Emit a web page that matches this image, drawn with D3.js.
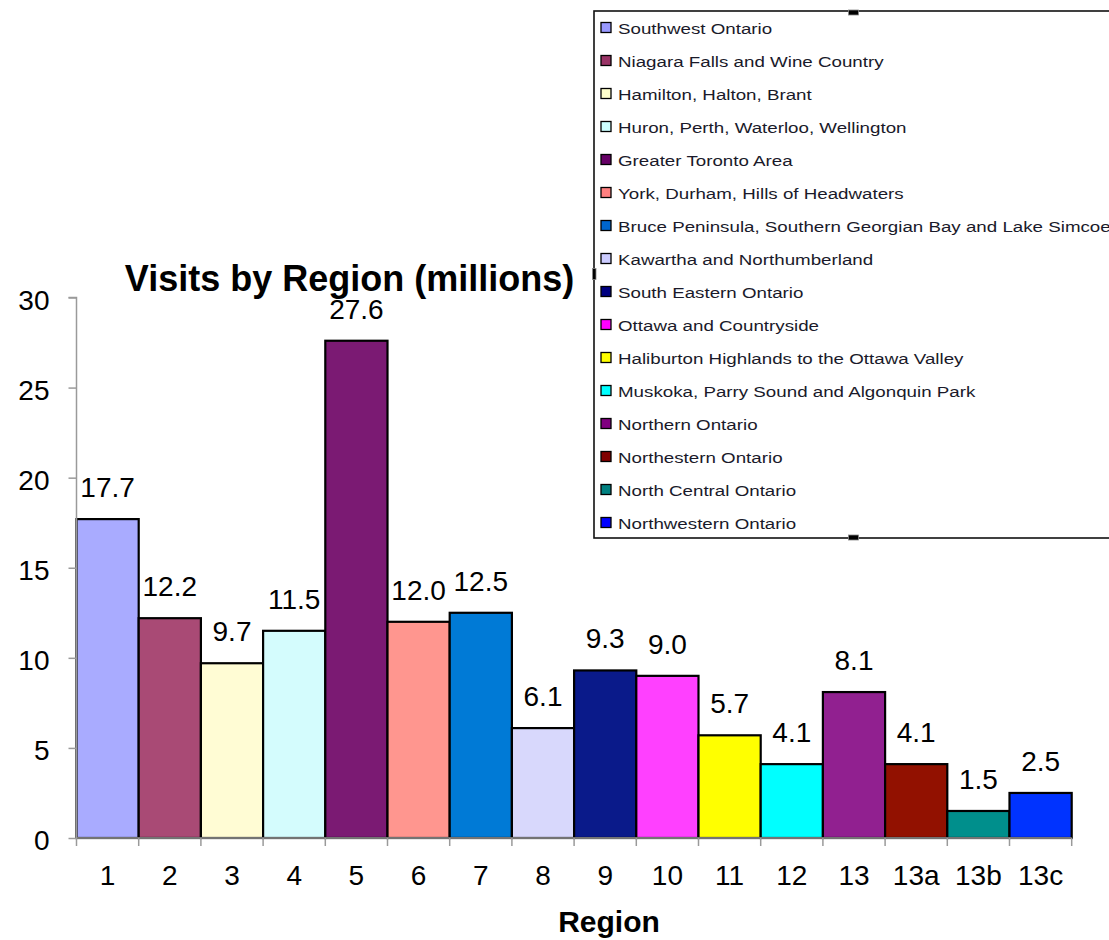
<!DOCTYPE html>
<html>
<head>
<meta charset="utf-8">
<script src="https://cdn.jsdelivr.net/npm/d3@7"></script>
<style>
  html, body { margin: 0; padding: 0; background: #fff; }
  svg { display: block; font-family: "Liberation Sans", Arial, sans-serif; }
</style>
</head>
<body>
<svg id="chart" width="1109" height="940"></svg>
<script>
const categories = ["1","2","3","4","5","6","7","8","9","10","11","12","13","13a","13b","13c"];
const values = [17.7, 12.2, 9.7, 11.5, 27.6, 12.0, 12.5, 6.1, 9.3, 9.0, 5.7, 4.1, 8.1, 4.1, 1.5, 2.5];
const regionNames = [
  "Southwest Ontario",
  "Niagara Falls and Wine Country",
  "Hamilton, Halton, Brant",
  "Huron, Perth, Waterloo, Wellington",
  "Greater Toronto Area",
  "York, Durham, Hills of Headwaters",
  "Bruce Peninsula, Southern Georgian Bay and Lake Simcoe",
  "Kawartha and Northumberland",
  "South Eastern Ontario",
  "Ottawa and Countryside",
  "Haliburton Highlands to the Ottawa Valley",
  "Muskoka, Parry Sound and Algonquin Park",
  "Northern Ontario",
  "Northestern Ontario",
  "North Central Ontario",
  "Northwestern Ontario"
];
const barColors = ["#a9abff","#a94a75","#fffcd4","#d4fcfd","#7b1a73","#ff968f","#007ad6","#d8d8fc",
                   "#0a1a8a","#ff40ff","#ffff00","#00ffff","#912090","#921100","#008f8c","#0033ff"];
const legendColors = ["#9999ff","#993366","#ffffcc","#ccffff","#660066","#ff8080","#0066cc","#ccccff",
                      "#000080","#ff00ff","#ffff00","#00ffff","#800080","#800000","#008080","#0000ff"];
const yTicks = [0, 5, 10, 15, 20, 25, 30];
const titleText = "Visits by Region (millions)";
const xTitle = "Region";

const svg = d3.select("#chart");
const plot = {left: 76.5, right: 1071.7, top: 297.5, bottom: 838};

const x = d3.scaleBand().domain(categories).range([plot.left, plot.right]).padding(0);
const y = d3.scaleLinear().domain([0, 30]).range([plot.bottom, plot.top]);
const axisColor = "#9a9a9a";

// Bars
svg.append("g").selectAll("rect").data(values).join("rect")
  .attr("x", (d, i) => x(categories[i]))
  .attr("y", d => y(d))
  .attr("width", x.bandwidth())
  .attr("height", d => y(0) - y(d))
  .attr("fill", (d, i) => barColors[i])
  .attr("stroke", "#000")
  .attr("stroke-width", 2.2);

// Y axis
const yAxis = d3.axisLeft(y).tickValues(yTicks).tickSize(8).tickPadding(19).tickFormat(d3.format("d"));
const gy = svg.append("g").attr("transform", `translate(${plot.left},0)`).call(yAxis);
gy.select(".domain").attr("stroke", axisColor).attr("stroke-width", 1.5).attr("d", `M-8,${plot.top}H0V${plot.bottom}`);
gy.selectAll(".tick line").attr("stroke", axisColor).attr("stroke-width", 1.5);
gy.selectAll(".tick text").attr("font-size", 28).attr("fill", "#000").attr("dy", "0.42em")
  .attr("font-family", "'Liberation Sans', Arial, sans-serif");

// X axis
const boundaries = d3.range(categories.length + 1).map(i => plot.left + i * x.bandwidth());
const gx = svg.append("g");
gx.append("line").attr("x1", plot.left).attr("x2", plot.right).attr("y1", plot.bottom).attr("y2", plot.bottom)
  .attr("stroke", axisColor).attr("stroke-width", 1.5);
gx.selectAll("line.tk").data(boundaries).join("line").attr("class", "tk")
  .attr("x1", d => d).attr("x2", d => d).attr("y1", plot.bottom).attr("y2", plot.bottom + 8)
  .attr("stroke", axisColor).attr("stroke-width", 1.5);
gx.selectAll("text").data(categories).join("text")
  .attr("x", d => x(d) + x.bandwidth() / 2)
  .attr("y", 885)
  .attr("text-anchor", "middle")
  .attr("font-size", 28)
  .text(d => d);

// Value labels
svg.append("g").selectAll("text").data(values).join("text")
  .attr("x", (d, i) => x(categories[i]) + x.bandwidth() / 2)
  .attr("y", d => y(d) - 22)
  .attr("text-anchor", "middle")
  .attr("font-size", 28)
  .text(d => d3.format(".1f")(d));

// Title
svg.append("text").attr("x", 349.5).attr("y", 291).attr("text-anchor", "middle")
  .attr("font-size", 36).attr("font-weight", "bold").text(titleText);

// X title
svg.append("text").attr("x", 609).attr("y", 932).attr("text-anchor", "middle")
  .attr("font-size", 30).attr("font-weight", "bold").text(xTitle);

// Legend
const lg = svg.append("g");
const lgBox = {x: 594, y: 11, w: 519, h: 527};
lg.append("rect").attr("x", lgBox.x).attr("y", lgBox.y).attr("width", lgBox.w).attr("height", lgBox.h)
  .attr("fill", "#fff").attr("stroke", "#111").attr("stroke-width", 1.6);
// selection handles
const handles = [
  {x: lgBox.x + lgBox.w / 2 - 5, y: lgBox.y - 1, w: 10, h: 5},
  {x: lgBox.x + lgBox.w / 2 - 5, y: lgBox.y + lgBox.h - 3, w: 10, h: 5},
  {x: lgBox.x - 1.5, y: lgBox.y + lgBox.h / 2 - 6, w: 3.5, h: 11}
];
lg.selectAll("rect.h").data(handles).join("rect").attr("class", "h")
  .attr("x", d => d.x).attr("y", d => d.y).attr("width", d => d.w).attr("height", d => d.h)
  .attr("fill", "#000").attr("stroke", "#888").attr("stroke-width", 0.8);

const rowY = i => 34 + i * 33;
lg.selectAll("rect.m").data(regionNames).join("rect").attr("class", "m")
  .attr("x", 601).attr("y", (d, i) => rowY(i) - 11.5)
  .attr("width", 10).attr("height", 10)
  .attr("fill", (d, i) => legendColors[i])
  .attr("stroke", "#000").attr("stroke-width", 1.3);
lg.selectAll("text").data(regionNames).join("text")
  .attr("transform", (d, i) => `translate(618,${rowY(i)}) scale(1.25,1)`)
  .attr("font-size", 15)
  .attr("fill", "#1a1a2a")
  .text(d => d);
</script>
</body>
</html>
